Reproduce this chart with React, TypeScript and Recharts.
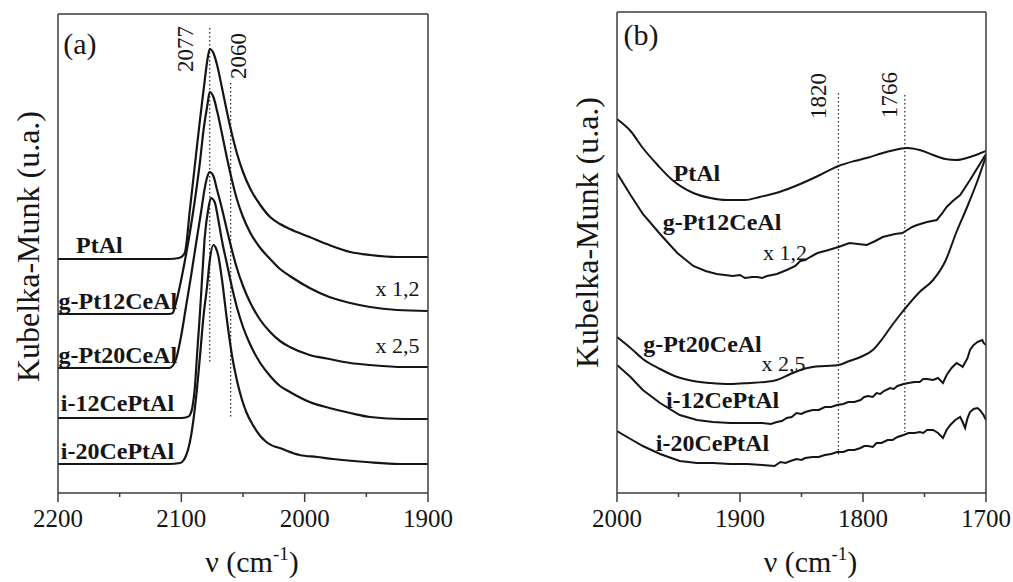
import React from "react";
import { LineChart, Line, XAxis, YAxis, ReferenceLine, ReferenceDot } from "recharts";

type Pt = [number, number];

const INK = "#151515";
const FRAME = "#3c3c3c";
const SERIF = "'Liberation Serif', 'Times New Roman', serif";

// panel (a): 2200-1900 cm-1
const ticksA = [2200, 2150, 2100, 2050, 2000, 1950, 1900];
const majorA = [2200, 2100, 2000, 1900];
const peaksA = [2077, 2060];

const ptAlA: Pt[] = [
  [2200, 23.4], [2150, 23.4], [2110, 23.4], [2102, 23.5], [2099, 23.7], [2097, 24.1],
  [2093, 28.4], [2089, 32.8], [2085, 37.2], [2081, 41.3], [2079, 43.2], [2077, 44.4],
  [2074, 44.0], [2071, 42.8], [2067, 40.5], [2063, 38.1], [2059, 35.9], [2055, 34.0],
  [2050, 32.1], [2044, 30.4], [2036, 28.8], [2028, 27.6], [2020, 26.9], [2012, 26.4],
  [1996, 25.6], [1980, 24.8], [1963, 24.1], [1947, 23.8], [1925, 23.6], [1900, 23.6],
];
const g12A: Pt[] = [
  [2200, 17.9], [2150, 17.9], [2110, 17.9], [2107, 18.0], [2105, 18.7], [2101, 20.8],
  [2097, 23.3], [2093, 26.1], [2089, 29.3], [2085, 33.0], [2082, 36.3], [2079, 38.7],
  [2077, 40.1], [2074, 39.6], [2071, 38.2], [2067, 35.9], [2063, 33.5], [2059, 31.3],
  [2055, 29.4], [2050, 27.6], [2044, 26.0], [2036, 24.5], [2028, 23.4], [2020, 22.4],
  [2012, 21.7], [1996, 20.5], [1980, 19.6], [1963, 19.0], [1947, 18.6], [1925, 18.3],
  [1900, 18.2],
];
const g20A: Pt[] = [
  [2200, 12.5], [2150, 12.5], [2110, 12.5], [2108, 12.6], [2104, 13.5], [2100, 15.8],
  [2096, 18.8], [2092, 21.8], [2088, 25.0], [2084, 28.1], [2081, 30.5], [2079, 31.6],
  [2077, 32.1], [2074, 31.7], [2071, 30.3], [2067, 28.4], [2063, 26.3], [2059, 24.3],
  [2055, 22.5], [2050, 20.7], [2044, 19.0], [2036, 17.3], [2028, 16.1], [2020, 15.2],
  [2012, 14.6], [1996, 13.8], [1980, 13.4], [1963, 13.0], [1947, 12.8], [1920, 12.6],
  [1900, 12.6],
];
const i12A: Pt[] = [
  [2200, 7.5], [2150, 7.5], [2100, 7.5], [2095, 7.6], [2093, 7.8], [2091, 8.6],
  [2089, 10.6], [2087, 14.3], [2085, 17.8], [2083, 21.8], [2081, 25.6], [2078, 28.5],
  [2076, 29.5], [2073, 29.1], [2070, 27.3], [2067, 25.2], [2063, 22.9], [2059, 20.6],
  [2055, 18.6], [2050, 16.6], [2044, 14.8], [2036, 13.0], [2028, 11.7], [2020, 10.7],
  [2012, 10.1], [1996, 9.1], [1980, 8.5], [1963, 8.0], [1947, 7.6], [1920, 7.4],
  [1900, 7.4],
];
const i20A: Pt[] = [
  [2200, 2.9], [2150, 2.9], [2110, 2.9], [2101, 3.0], [2098, 3.3], [2096, 3.8],
  [2094, 4.6], [2092, 5.8], [2090, 7.5], [2088, 9.6], [2085, 13.5], [2082, 17.7],
  [2079, 20.8], [2077, 23.2], [2074, 24.8], [2072, 24.5], [2070, 23.7], [2067, 21.3],
  [2063, 17.3], [2059, 13.8], [2055, 11.3], [2051, 9.4], [2047, 8.0], [2042, 6.8],
  [2036, 5.7], [2030, 5.0], [2018, 4.4], [2004, 3.8], [1990, 3.6], [1977, 3.4],
  [1950, 3.1], [1923, 2.9], [1900, 2.9],
];

// panel (b): 2000-1700 cm-1
const ticksB = [2000, 1950, 1900, 1850, 1800, 1750, 1700];
const majorB = [2000, 1900, 1800, 1700];
const peaksB = [1820, 1766];

const ptAlB: Pt[] = [
  [2000, 37.4], [1989, 36.2], [1979, 34.5], [1967, 32.8], [1955, 31.3], [1938, 30.0],
  [1924, 29.5], [1911, 29.3], [1896, 29.3], [1884, 29.6], [1868, 30.1], [1851, 30.9],
  [1835, 31.8], [1820, 32.7], [1807, 33.2], [1797, 33.5], [1781, 34.1], [1764, 34.5],
  [1754, 34.3], [1743, 33.8], [1733, 33.4], [1724, 33.3], [1713, 33.6], [1700, 34.2],
];
const g12B: Pt[] = [
  [2000, 32.0], [1989, 29.8], [1979, 27.9], [1965, 25.9], [1951, 24.0], [1938, 22.7],
  [1928, 22.2], [1919, 21.9], [1906, 21.7], [1900, 21.8], [1896, 21.5], [1890, 21.6],
  [1886, 21.6], [1882, 21.5], [1878, 21.7], [1870, 21.9], [1862, 22.3], [1855, 22.7],
  [1851, 23.2], [1847, 23.3], [1843, 23.6], [1837, 24.0], [1828, 24.3], [1820, 24.6],
  [1811, 25.0], [1804, 24.9], [1797, 24.8], [1790, 25.2], [1784, 25.6], [1774, 25.9],
  [1768, 26.0], [1764, 26.3], [1760, 26.6], [1756, 26.8], [1748, 27.1], [1740, 27.3],
  [1736, 27.9], [1732, 28.6], [1727, 29.2], [1721, 29.8], [1713, 31.3], [1707, 32.5],
  [1700, 33.9],
];
const g20B: Pt[] = [
  [2000, 15.6], [1989, 14.5], [1979, 13.4], [1965, 12.4], [1951, 11.6], [1938, 11.2],
  [1924, 11.0], [1908, 10.9], [1892, 11.0], [1880, 11.1], [1870, 11.3], [1859, 11.9],
  [1851, 12.3], [1841, 12.6], [1831, 12.7], [1820, 12.8], [1811, 13.2], [1802, 13.6],
  [1792, 14.3], [1785, 15.3], [1778, 16.5], [1770, 17.8], [1762, 19.0], [1754, 20.1],
  [1743, 21.3], [1733, 23.2], [1724, 26.1], [1715, 28.7], [1707, 31.2], [1700, 33.7],
];
const i12B: Pt[] = [
  [2000, 12.8], [1989, 11.6], [1979, 10.3], [1965, 9.0], [1949, 7.8], [1935, 7.3],
  [1922, 7.1], [1908, 7.0], [1894, 7.0], [1882, 7.0], [1875, 6.9], [1870, 7.1],
  [1866, 7.2], [1862, 7.5], [1858, 7.6], [1854, 8.0], [1850, 7.9], [1847, 8.1],
  [1841, 8.3], [1836, 8.3], [1831, 8.6], [1826, 8.6], [1821, 8.8], [1816, 8.9],
  [1812, 9.1], [1807, 9.1], [1802, 9.3], [1799, 9.6], [1796, 9.7], [1792, 9.6],
  [1789, 10.0], [1786, 9.9], [1783, 10.2], [1778, 10.5], [1775, 10.4], [1772, 10.7],
  [1767, 10.9], [1763, 11.0], [1758, 11.1], [1754, 11.1], [1751, 11.4], [1748, 11.4],
  [1743, 11.3], [1739, 11.5], [1735, 11.0], [1732, 11.8], [1728, 12.5], [1724, 13.0],
  [1721, 12.8], [1719, 12.6], [1715, 13.5], [1713, 14.3], [1710, 14.8], [1707, 15.1],
  [1705, 15.2], [1703, 15.3], [1702, 15.0], [1700, 14.8],
];
const i20B: Pt[] = [
  [2000, 6.2], [1989, 5.4], [1979, 4.7], [1965, 3.9], [1949, 3.2], [1935, 3.0],
  [1922, 3.0], [1908, 2.9], [1894, 2.9], [1882, 2.8], [1872, 2.7], [1867, 3.1],
  [1863, 3.0], [1859, 3.2], [1854, 3.4], [1850, 3.3], [1847, 3.5], [1841, 3.6],
  [1836, 3.6], [1831, 3.8], [1826, 3.9], [1821, 4.1], [1816, 4.1], [1812, 4.3],
  [1807, 4.3], [1802, 4.5], [1799, 4.7], [1796, 4.7], [1792, 4.6], [1789, 5.0],
  [1785, 5.0], [1780, 5.3], [1776, 5.3], [1772, 5.6], [1767, 5.8], [1763, 6.0],
  [1758, 6.0], [1754, 6.1], [1751, 6.0], [1748, 6.3], [1743, 6.3], [1739, 6.0],
  [1735, 5.5], [1732, 6.3], [1729, 6.8], [1725, 7.3], [1721, 7.6], [1719, 7.1],
  [1717, 6.5], [1715, 7.5], [1713, 8.1], [1710, 8.4], [1707, 8.5], [1705, 8.3],
  [1702, 7.8], [1700, 7.3],
];

const toRows = (pts: Pt[]) => pts.map(([w, v]) => ({ w, v }));

const makeTick = (major: number[]) => (props: any) => {
  const { x, y, payload } = props;
  const isMajor = major.includes(payload.value);
  return (
    <g>
      <line x1={x} x2={x} y1={y} y2={y + (isMajor ? 9 : 4)} stroke={FRAME} strokeWidth={1.5} />
      {isMajor && (
        <text x={x} y={y + 34} textAnchor="middle" fontSize={25} fontFamily={SERIF} fill={INK}>
          {payload.value}
        </text>
      )}
    </g>
  );
};

// axis titles drawn relative to the plot box of each panel
const yTitle = (dx: number, dy: number) => (p: any) => {
  const vb = p.viewBox || {};
  const cx = vb.x + vb.width + dx;
  const cy = vb.y + vb.height / 2 + dy;
  return (
    <text
      transform={`translate(${cx},${cy}) rotate(-90)`}
      textAnchor="middle"
      dominantBaseline="central"
      fontSize={32}
      fontFamily={SERIF}
      fill={INK}
    >
      Kubelka-Munk (u.a.)
    </text>
  );
};

const xTitle = (dx: number) => (p: any) => {
  const vb = p.viewBox || {};
  return (
    <text x={vb.x + vb.width / 2 + dx} y={vb.y + 79} textAnchor="middle" fontSize={30} fontFamily={SERIF} fill={INK}>
      ν (cm<tspan dy={-12} fontSize={19}>-1</tspan>
      <tspan dy={12}>)</tspan>
    </text>
  );
};

const tag = (w: number, v: number, text: string, size: number, bold = false, angle = 0) => (
  <ReferenceDot
    key={text + w + v}
    x={w}
    y={v}
    r={0}
    fill="none"
    stroke="none"
    ifOverflow="visible"
    label={{
      value: text,
      position: "center",
      angle,
      fontSize: size,
      fontWeight: bold ? 700 : 400,
      fontFamily: SERIF,
      fill: INK,
    }}
  />
);

const dotted = (w: number, v1: number, v2: number) => (
  <ReferenceLine
    key={"d" + w}
    segment={[{ x: w, y: v1 }, { x: w, y: v2 }]}
    stroke="#333"
    strokeWidth={1.3}
    strokeDasharray="1.4 2.6"
    ifOverflow="visible"
  />
);

const curve = (pts: Pt[], name: string, smooth: boolean, width = 2.2) => (
  <Line
    key={name}
    name={name}
    data={toRows(pts)}
    dataKey="v"
    type={smooth ? "monotone" : "linear"}
    stroke={INK}
    strokeWidth={width}
    dot={false}
    activeDot={false}
    isAnimationActive={false}
  />
);

const axisLine = { stroke: FRAME, strokeWidth: 1.5 };

const Panel = (props: {
  width: number;
  margin: { top: number; right: number; bottom: number; left: number };
  domX: number[];
  domY: number[];
  ticks: number[];
  major: number[];
  yTitleShift: number;
  children: React.ReactNode;
}) => (
  <LineChart width={props.width} height={582} margin={props.margin}>
    <XAxis
      type="number"
      dataKey="w"
      domain={props.domX}
      reversed
      allowDataOverflow
      ticks={props.ticks}
      interval={0}
      tickSize={0}
      tickMargin={0}
      tickLine={false}
      tick={makeTick(props.major)}
      height={40}
      axisLine={axisLine}
      label={{ content: xTitle(9) }}
    />
    <YAxis
      type="number"
      domain={props.domY}
      allowDataOverflow
      width={10}
      tick={false}
      tickLine={false}
      axisLine={axisLine}
      label={{ content: yTitle(-30, props.yTitleShift) }}
    />
    <XAxis xAxisId="top" orientation="top" type="number" domain={props.domX} height={10} tick={false} tickLine={false} axisLine={axisLine} />
    <YAxis yAxisId="right" orientation="right" type="number" domain={props.domY} width={10} tick={false} tickLine={false} axisLine={axisLine} />
    {props.children}
  </LineChart>
);

export default function App() {
  const domA = [0, 47.9];
  const domB = [0, 48.1];
  return (
    <div style={{ position: "absolute", left: 0, top: 0, width: 1013, height: 582, background: "#fff" }}>
      <div style={{ position: "absolute", left: 0, top: 0 }}>
        <Panel
          width={470}
          margin={{ top: 4, right: 32, bottom: 49, left: 48 }}
          domX={[1900, 2200]}
          domY={domA}
          ticks={ticksA}
          major={majorA}
          yTitleShift={-7}
        >
          {dotted(peaksA[0], 46.5, 13.0)}
          {dotted(peaksA[1], 41.0, 7.6)}
          {curve(ptAlA, "PtAl", true)}
          {curve(g12A, "g-Pt12CeAl", true)}
          {curve(g20A, "g-Pt20CeAl", true)}
          {curve(i12A, "i-12CePtAl", true)}
          {curve(i20A, "i-20CePtAl", true)}
          {tag(2182.2, 45.0, "(a)", 30)}
          {tag(2097, 44.4, "2077", 23, false, -90)}
          {tag(2054, 43.7, "2060", 23, false, -90)}
          {tag(2166.4, 24.9, "PtAl", 24, true)}
          {tag(2151.4, 19.3, "g-Pt12CeAl", 24, true)}
          {tag(2151.4, 13.9, "g-Pt20CeAl", 24, true)}
          {tag(2151.8, 9.1, "i-12CePtAl", 24, true)}
          {tag(2151.8, 4.3, "i-20CePtAl", 24, true)}
          {tag(1924.7, 20.5, "x 1,2", 22)}
          {tag(1924.7, 14.8, "x 2,5", 22)}
        </Panel>
      </div>
      <div style={{ position: "absolute", left: 520, top: 0 }}>
        <Panel
          width={493}
          margin={{ top: 2, right: 17, bottom: 49, left: 87 }}
          domX={[1700, 2000]}
          domY={domB}
          ticks={ticksB}
          major={majorB}
          yTitleShift={-20}
        >
          {dotted(peaksB[0], 40.0, 3.6)}
          {dotted(peaksB[1], 39.8, 6.1)}
          {curve(ptAlB, "PtAl", true, 2)}
          {curve(g12B, "g-Pt12CeAl", false, 2)}
          {curve(g20B, "g-Pt20CeAl", true, 2)}
          {curve(i12B, "i-12CePtAl", false, 2)}
          {curve(i20B, "i-20CePtAl", false, 2)}
          {tag(1980.5, 45.9, "(b)", 30)}
          {tag(1836.6, 39.7, "1820", 23, false, -90)}
          {tag(1778.9, 39.8, "1766", 23, false, -90)}
          {tag(1935, 32.1, "PtAl", 24, true)}
          {tag(1914.6, 27.2, "g-Pt12CeAl", 24, true)}
          {tag(1863.4, 24.1, "x 1,2", 22)}
          {tag(1930.5, 15.0, "g-Pt20CeAl", 24, true)}
          {tag(1864.6, 13.0, "x 2,5", 22)}
          {tag(1914.2, 9.4, "i-12CePtAl", 24, true)}
          {tag(1922.4, 5.1, "i-20CePtAl", 24, true)}
        </Panel>
      </div>
    </div>
  );
}
